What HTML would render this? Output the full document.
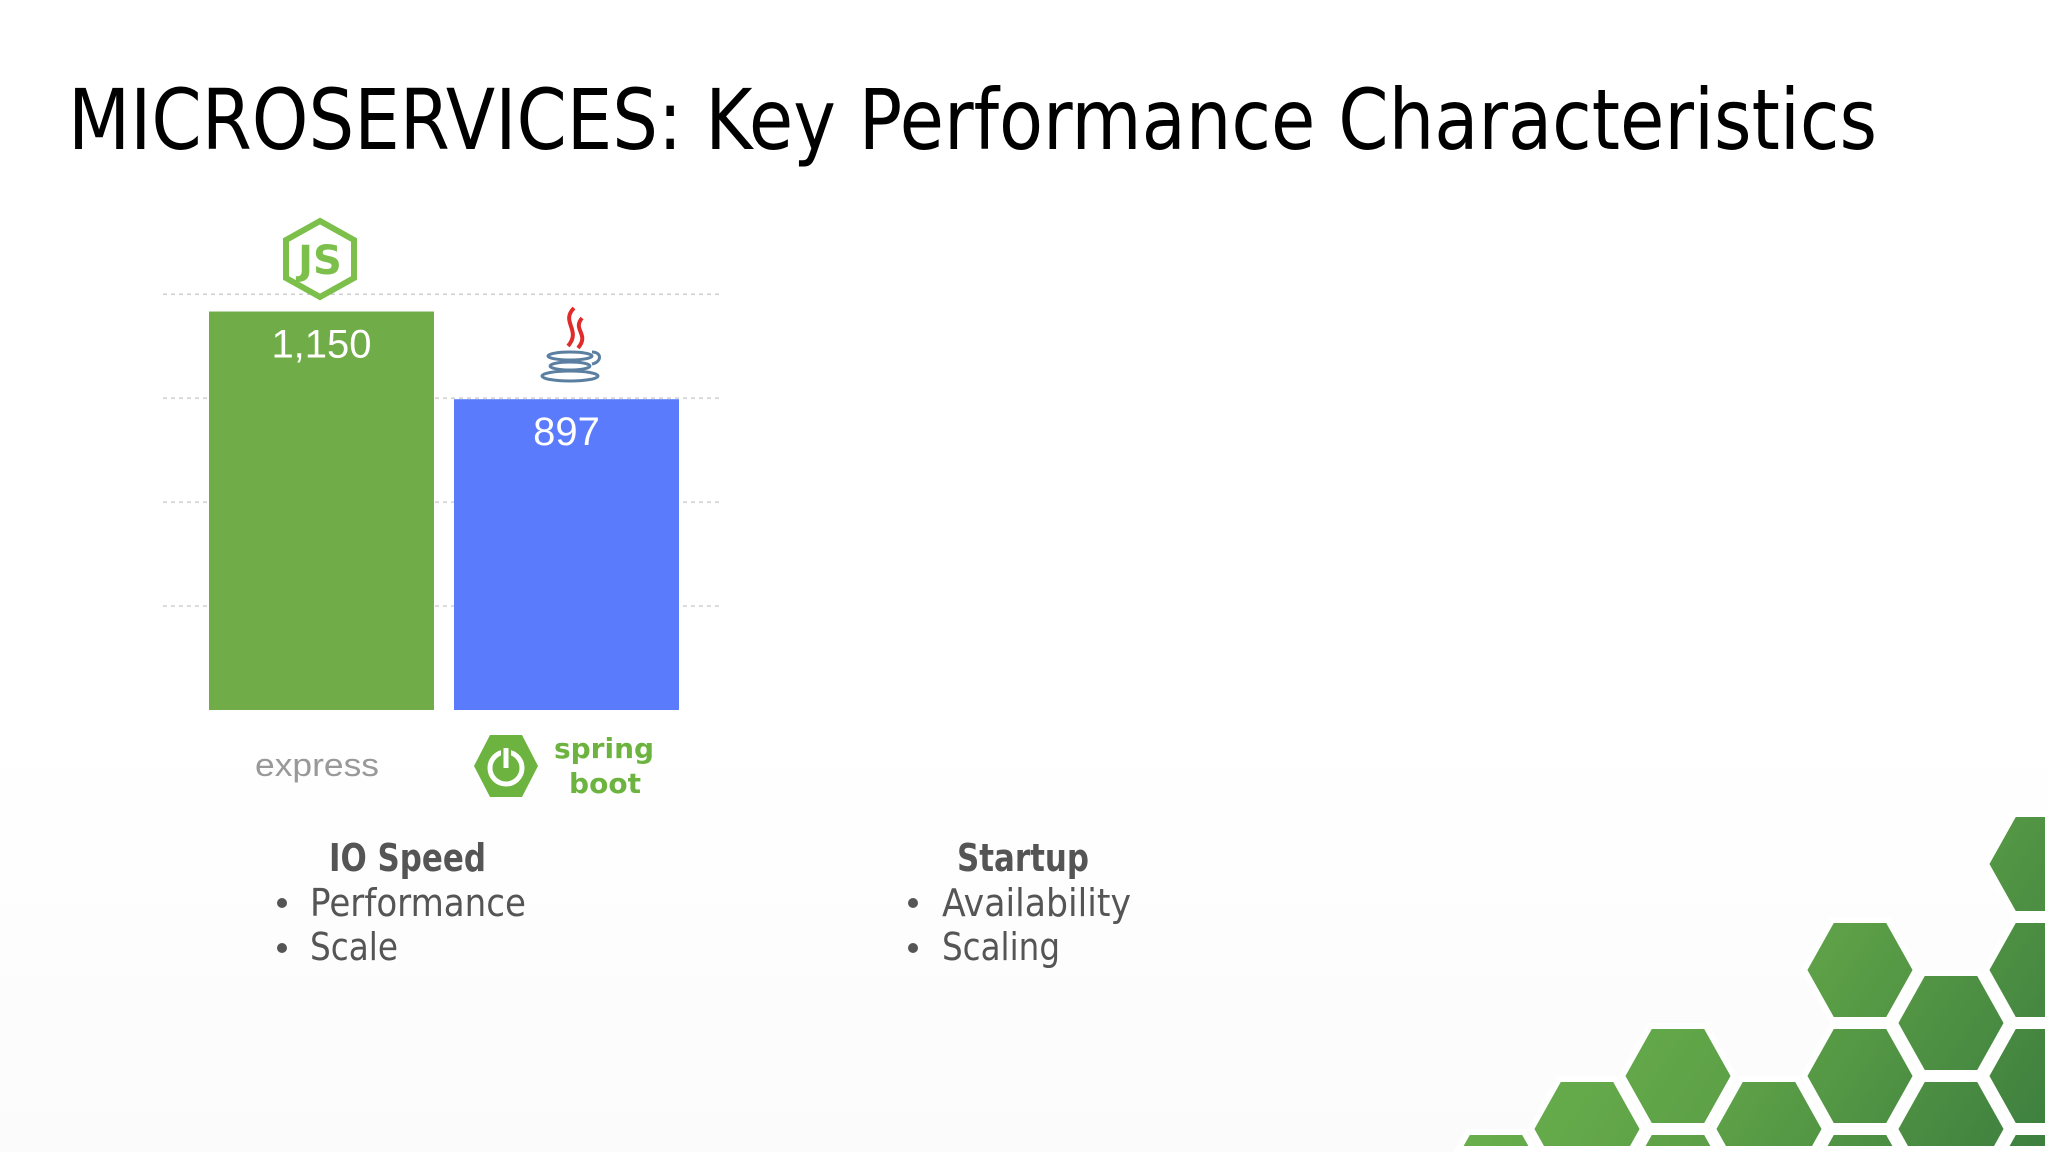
<!DOCTYPE html>
<html><head><meta charset="utf-8"><style>
html,body{margin:0;padding:0;background:#fff;width:2048px;height:1152px;overflow:hidden;}
svg{display:block;}
</style></head><body>
<svg id="slide" width="2048" height="1152" viewBox="0 0 2048 1152" xmlns="http://www.w3.org/2000/svg">
<defs>
<linearGradient id="hexg" gradientUnits="userSpaceOnUse" x1="1600" y1="860" x2="2048" y2="1152">
<stop offset="0" stop-color="#6ab14d"/><stop offset="0.45" stop-color="#5da047"/><stop offset="1" stop-color="#3c7e3e"/>
</linearGradient>
<linearGradient id="bgfade" x1="0" y1="0" x2="0" y2="1">
<stop offset="0" stop-color="#ffffff"/><stop offset="1" stop-color="#fbfbfb"/>
</linearGradient>
</defs>
<rect x="0" y="730" width="2048" height="422" fill="url(#bgfade)"/>
<text x="68" y="149" font-family="DejaVu Sans, Liberation Sans, sans-serif" font-size="84" fill="#000" textLength="1809" lengthAdjust="spacingAndGlyphs">MICROSERVICES: Key Performance Characteristics</text>
<g id="grid"></g>
<g id="bars"></g>
<g>
<polygon points="320,221 354,240 354,278 320,297 286,278 286,240" fill="none" stroke="#7cc04b" stroke-width="6"/>
<text x="320" y="274" text-anchor="middle" font-family="DejaVu Sans, sans-serif" font-weight="bold" font-size="40" fill="#7cc04b">JS</text>
</g>
<g>
<path d="M574,308 C560,322 582,330 568,346 M582,318 C572,330 590,334 578,348" fill="none" stroke="#e02b2b" stroke-width="4"/>
<ellipse cx="570" cy="356" rx="22" ry="4" fill="none" stroke="#5a7fa0" stroke-width="3"/>
<ellipse cx="570" cy="366" rx="20" ry="4" fill="none" stroke="#5a7fa0" stroke-width="3"/>
<ellipse cx="570" cy="376" rx="28" ry="5" fill="none" stroke="#5a7fa0" stroke-width="3"/>
<path d="M592,352 c10,0 10,10 0,12" fill="none" stroke="#5a7fa0" stroke-width="3"/>
</g>
<text x="317" y="776" text-anchor="middle" font-family="Liberation Sans, sans-serif" font-size="32" fill="#999" textLength="124" lengthAdjust="spacingAndGlyphs">express</text>
<g>
<polygon points="490,735 522,735 538,766 522,797 490,797 474,766" fill="#6db33f"/>
<circle cx="506" cy="768" r="16" fill="none" stroke="#fff" stroke-width="5"/>
<line x1="506" y1="748" x2="506" y2="768" stroke="#6db33f" stroke-width="10"/>
<line x1="506" y1="748" x2="506" y2="768" stroke="#fff" stroke-width="5"/>
<text x="604" y="758" text-anchor="middle" font-family="DejaVu Sans, sans-serif" font-weight="bold" font-size="28" fill="#6db33f">spring</text>
<text x="605" y="793" text-anchor="middle" font-family="DejaVu Sans, sans-serif" font-weight="bold" font-size="28" fill="#6db33f">boot</text>
</g>
<g font-family="DejaVu Sans, sans-serif" fill="#555">
<text x="329" y="871" font-size="38" font-weight="bold" textLength="157" lengthAdjust="spacingAndGlyphs">IO Speed</text>
<circle cx="282" cy="903" r="5"/>
<text x="310" y="916" font-size="38" textLength="216" lengthAdjust="spacingAndGlyphs">Performance</text>
<circle cx="282" cy="948" r="5"/>
<text x="310" y="960" font-size="38" textLength="88" lengthAdjust="spacingAndGlyphs">Scale</text>
</g>
<g font-family="DejaVu Sans, sans-serif" fill="#555">
<text x="957" y="871" font-size="38" font-weight="bold" textLength="132" lengthAdjust="spacingAndGlyphs">Startup</text>
<circle cx="913" cy="903" r="5"/>
<text x="942" y="916" font-size="38" textLength="189" lengthAdjust="spacingAndGlyphs">Availability</text>
<circle cx="913" cy="948" r="5"/>
<text x="942" y="960" font-size="38" textLength="118" lengthAdjust="spacingAndGlyphs">Scaling</text>
</g>
<g id="hexes"></g>
</svg>
<script>
const categories = ["express", "spring boot"];
const values = [1150, 897];
const valueLabels = ["1,150", "897"];
const gridTicks = [300, 600, 900, 1200];
const NS = "http://www.w3.org/2000/svg";
const baseY = 710, pxPerUnit = 0.3465;
function yScale(v){ return baseY - v * pxPerUnit; }
function xScale(i){ return 209 + i * 245; }
const barW = 225;
const colors = ["#70ac47", "#5b7bfd"];
const grid = document.getElementById('grid');
gridTicks.forEach(t => {
  const l = document.createElementNS(NS, 'line');
  
  
  l.setAttribute('x1', 163); l.setAttribute('x2', 722);
  l.setAttribute('y1', yScale(t)); l.setAttribute('y2', yScale(t));
  l.setAttribute('stroke', '#d0d0d0'); l.setAttribute('stroke-width', 1.5);
  l.setAttribute('stroke-dasharray', '4 4');
  grid.appendChild(l);
});
const bars = document.getElementById('bars');
values.forEach((v, i) => {
  const r = document.createElementNS(NS, 'rect');
  
  
  r.setAttribute('x', xScale(i)); r.setAttribute('y', yScale(v));
  r.setAttribute('width', barW); r.setAttribute('height', baseY - yScale(v));
  r.setAttribute('fill', colors[i]);
  bars.appendChild(r);
  const t = document.createElementNS(NS, 'text');
  
  
  t.setAttribute('x', xScale(i) + barW / 2); t.setAttribute('y', yScale(v) + 46);
  t.setAttribute('text-anchor', 'middle');
  t.setAttribute('font-family', 'Liberation Sans, sans-serif');
  t.setAttribute('font-size', '40');
  t.setAttribute('fill', '#fff');
  t.textContent = valueLabels[i];
  bars.appendChild(t);
});
function clipPoly(pts, inside, inter) {
  const out = [];
  for (let i = 0; i < pts.length; i++) {
    const a = pts[i], b = pts[(i + 1) % pts.length];
    const ia = inside(a), ib = inside(b);
    if (ia) out.push(a);
    if (ia !== ib) out.push(inter(a, b));
  }
  return out;
}
const W = 2048, H = 1149;
const hexCols = [-4, -3, -2, -1, 0, 1, 2];
const hexTop = [1182, 1129, 1076, 1129, 970, 1023, 864];
const hg = document.getElementById('hexes');
hexCols.forEach((k, j) => {
  const cx = 1860 + 91 * k;
  for (let cy = hexTop[j]; cy - 50 < H; cy += 106) {
    let pts = [[cx-56,cy],[cx-28,cy-50],[cx+28,cy-50],[cx+56,cy],[cx+28,cy+50],[cx-28,cy+50]];
    pts = clipPoly(pts, p => p[1] <= H, (a, b) => { const t = (H - a[1]) / (b[1] - a[1]); return [a[0] + t * (b[0] - a[0]), H]; });
    pts = clipPoly(pts, p => p[0] <= W, (a, b) => { const t = (W - a[0]) / (b[0] - a[0]); return [W, a[1] + t * (b[1] - a[1])]; });
    if (pts.length < 3) continue;
    const p = document.createElementNS(NS, 'polygon');
    
    
    p.setAttribute('points', pts.map(q => q[0].toFixed(1) + ',' + q[1].toFixed(1)).join(' '));
    p.setAttribute('fill', 'url(#hexg)');
    p.setAttribute('stroke', '#fff');
    p.setAttribute('stroke-width', '6');
    hg.appendChild(p);
  }
});
</script>
</body></html>
